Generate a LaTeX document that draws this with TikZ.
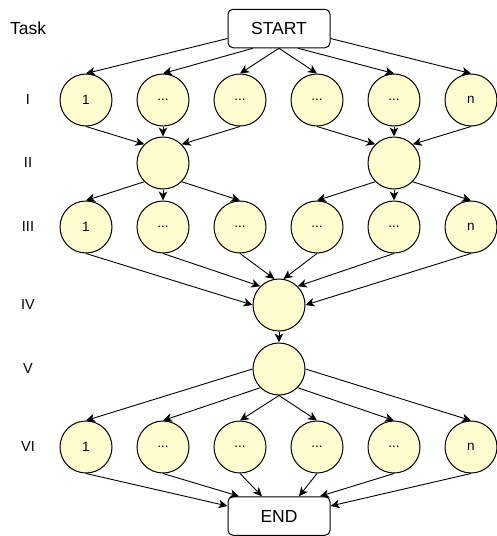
\documentclass[tikz,border=0pt]{standalone}
\usepackage{fontspec}
\setmainfont{Liberation Sans}
\usetikzlibrary{arrows.meta,calc}
\definecolor{cfill}{HTML}{FFFDD0}
\tikzset{
  termbox/.style={draw, line width=1pt, rounded corners=5pt, fill=white, minimum width=102pt, minimum height=38.5pt, inner sep=0pt, font=\fontsize{17.5}{20}\selectfont},
  task/.style={circle, draw, line width=1pt, fill=cfill, minimum size=52pt, inner sep=0pt, font=\fontsize{13.5}{15}\selectfont},
  lvl/.style={font=\fontsize{14.5}{17}\selectfont, inner sep=0pt},
  arr/.style={line width=0.9pt, -{Stealth[length=9pt,width=8.5pt,inset=2.5pt]}}
}
\begin{document}
\begin{tikzpicture}[x=1pt,y=-1pt]
\useasboundingbox (0,0) rectangle (497,536);
% labels
\node[inner sep=0pt, font=\fontsize{17.5}{20}\selectfont] (lt) at (28,28.5) {Task};
\node[lvl] (l1) at (28,100) {I};
\node[lvl] (l2) at (28,163) {II};
\node[lvl] (l3) at (28,227) {III};
\node[lvl] (l4) at (28,305) {IV};
\node[lvl] (l5) at (28,369) {V};
\node[lvl] (l6) at (28,447) {VI};
% terminals
\node[termbox] (start) at (279,28.5) {START};
\node[termbox] (end) at (279,516) {END};
% row I
\node[task] (i1) at (86,100) {1};
\node[task] (i2) at (163,100) {...};
\node[task] (i3) at (240,100) {...};
\node[task] (i4) at (317,100) {...};
\node[task] (i5) at (394,100) {...};
\node[task] (i6) at (471,100) {n};
% row II
\node[task] (ii1) at (163,163) {};
\node[task] (ii2) at (394,163) {};
% row III
\node[task] (iii1) at (86,227) {1};
\node[task] (iii2) at (163,227) {...};
\node[task] (iii3) at (240,227) {...};
\node[task] (iii4) at (317,227) {...};
\node[task] (iii5) at (394,227) {...};
\node[task] (iii6) at (471,227) {n};
% row IV, V
\node[task] (iv) at (279,305) {};
\node[task] (v) at (279,369) {};
% row VI
\node[task] (vi1) at (86,447) {1};
\node[task] (vi2) at (163,447) {...};
\node[task] (vi3) at (240,447) {...};
\node[task] (vi4) at (317,447) {...};
\node[task] (vi5) at (394,447) {...};
\node[task] (vi6) at (471,447) {n};
% START -> I
\draw[arr] ($(start.west)+(0,10)$) -- (i1.north);
\draw[arr] ($(start.south)+(-26,0)$) -- (i2.north);
\draw[arr] (start.south) -- (i3.north);
\draw[arr] (start.south) -- (i4.north);
\draw[arr] ($(start.south)+(19,0)$) -- (i5.north);
\draw[arr] ($(start.east)+(0,10)$) -- (i6.north);
% I -> II
\draw[arr] (i1.south) -- (ii1.north west);
\draw[arr] (i2.south) -- (ii1.north);
\draw[arr] (i3.south) -- (ii1.north east);
\draw[arr] (i4.south) -- (ii2.north west);
\draw[arr] (i5.south) -- (ii2.north);
\draw[arr] (i6.south) -- (ii2.north east);
% II -> III
\draw[arr] (ii1.south west) -- (iii1.north);
\draw[arr] (ii1.south) -- (iii2.north);
\draw[arr] (ii1.south east) -- (iii3.north);
\draw[arr] (ii2.south west) -- (iii4.north);
\draw[arr] (ii2.south) -- (iii5.north);
\draw[arr] (ii2.south east) -- (iii6.north);
% III -> IV
\draw[arr] (iii1.south) -- (iv.west);
\draw[arr] (iii2.south) -- (iv.north west);
\draw[arr] (iii3.south) -- (iv.100);
\draw[arr] (iii4.south) -- (iv.80);
\draw[arr] (iii5.south) -- (iv.north east);
\draw[arr] (iii6.south) -- (iv.east);
% IV -> V
\draw[arr] (iv.south) -- (v.north);
% V -> VI
\draw[arr] (v.west) -- (vi1.north);
\draw[arr] (v.south west) -- (vi2.north);
\draw[arr] (v.south) -- (vi3.north);
\draw[arr] (v.south) -- (vi4.north);
\draw[arr] (v.south east) -- (vi5.north);
\draw[arr] (v.east) -- (vi6.north);
% VI -> END
\draw[arr] (vi1.south) -- ($(end.west)+(0,-10)$);
\draw[arr] (vi2.south) -- ($(end.north)+(-40,0)$);
\draw[arr] (vi3.south) -- ($(end.north)+(-17,0)$);
\draw[arr] (vi4.south) -- ($(end.north)+(20,0)$);
\draw[arr] (vi5.south) -- ($(end.north)+(41,0)$);
\draw[arr] (vi6.south) -- ($(end.east)+(0,-10)$);
\end{tikzpicture}
\end{document}
